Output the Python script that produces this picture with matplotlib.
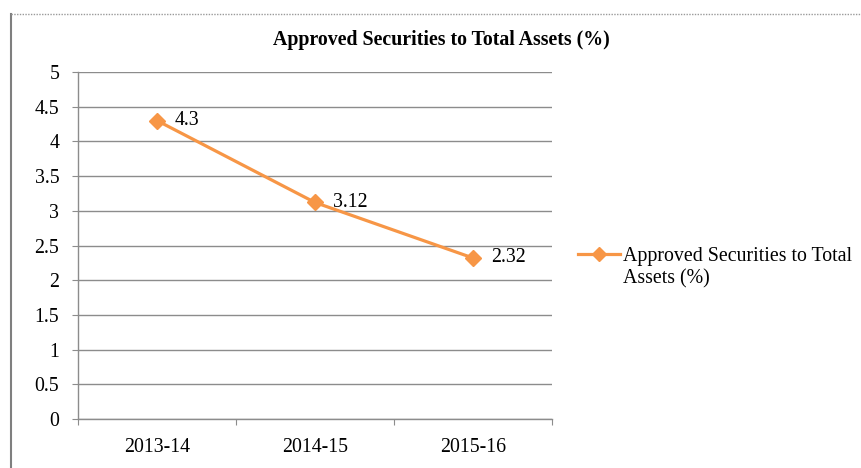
import matplotlib
matplotlib.use("Agg")
import matplotlib.pyplot as plt
from matplotlib.lines import Line2D

categories = ["2013-14", "2014-15", "2015-16"]
values = [4.3, 3.12, 2.32]
value_labels = ["4.3", "3.12", "2.32"]
yticks = [0, 0.5, 1, 1.5, 2, 2.5, 3, 3.5, 4, 4.5, 5]
ytick_labels = ["0", "0.5", "1", "1.5", "2", "2.5", "3", "3.5", "4", "4.5", "5"]
title = "Approved Securities to Total Assets (%)"
legend_label = "Approved Securities to Total\nAssets (%)"

W, H = 862, 468
plt.rcParams['font.family'] = ['Liberation Serif', 'DejaVu Serif']
FS = 14.3
ORANGE = "#F79646"
GRID = "#8C8C8C"

fig = plt.figure(figsize=(W / 100, H / 100), dpi=100)
ax = fig.add_axes([78 / W, 1 - 419 / H, (552 - 78) / W, (419 - 72) / H])

x = list(range(len(categories)))
ax.plot(x, values, color=ORANGE, lw=2.3, marker="D", markersize=8, zorder=3)
for xi, v, lab in zip(x, values, value_labels):
    ax.annotate(lab, (xi, v), xytext=(13, 0), textcoords="offset points",
                va="center", ha="left", fontsize=FS)

ax.set_xlim(-0.5, len(categories) - 0.5)
ax.set_ylim(0, 5)
ax.set_yticks(yticks)
ax.set_yticklabels(ytick_labels)
ax.set_xticks([i - 0.5 for i in range(len(categories) + 1)])
ax.set_xticklabels([])
ax.set_xticks(x, minor=True)
ax.set_xticklabels(categories, minor=True)
ax.tick_params(axis="x", which="major", length=4, color=GRID, direction="out")
ax.tick_params(axis="x", which="minor", length=0, pad=14, labelsize=FS)
ax.tick_params(axis="y", length=4.5, color=GRID, pad=9, labelsize=FS)
ax.grid(axis="y", color=GRID, lw=1)
ax.set_axisbelow(True)
for s in ["top", "right"]:
    ax.spines[s].set_visible(False)
for s in ["left", "bottom"]:
    ax.spines[s].set_color(GRID)
    ax.spines[s].set_linewidth(1)

fig.text(441 / W, 1 - 40 / H, title, ha="center", va="center",
         fontsize=FS, fontweight="bold")

# legend
ly = 1 - 254 / H
fig.add_artist(Line2D([578 / W, 620 / W], [ly, ly], color=ORANGE, lw=2.3,
                      transform=fig.transFigure))
fig.add_artist(Line2D([599 / W], [ly], color=ORANGE, marker="D", markersize=7,
                      transform=fig.transFigure))
fig.text(623 / W, 1 - 256 / H, legend_label.split("\n")[0], ha="left", va="center", fontsize=FS)
fig.text(623 / W, 1 - 279 / H, legend_label.split("\n")[1], ha="left", va="center", fontsize=FS)

# chart frame
fig.add_artist(Line2D([11 / W, 11 / W], [0, 1 - 14 / H], color="#7F7F7F", lw=1.5,
                      transform=fig.transFigure))
fig.add_artist(Line2D([11 / W, 1], [1 - 14 / H, 1 - 14 / H], color="#9A9A9A", lw=1,
                      ls=(0, (1, 1)), transform=fig.transFigure))

fig.savefig("out.png", dpi=100)
